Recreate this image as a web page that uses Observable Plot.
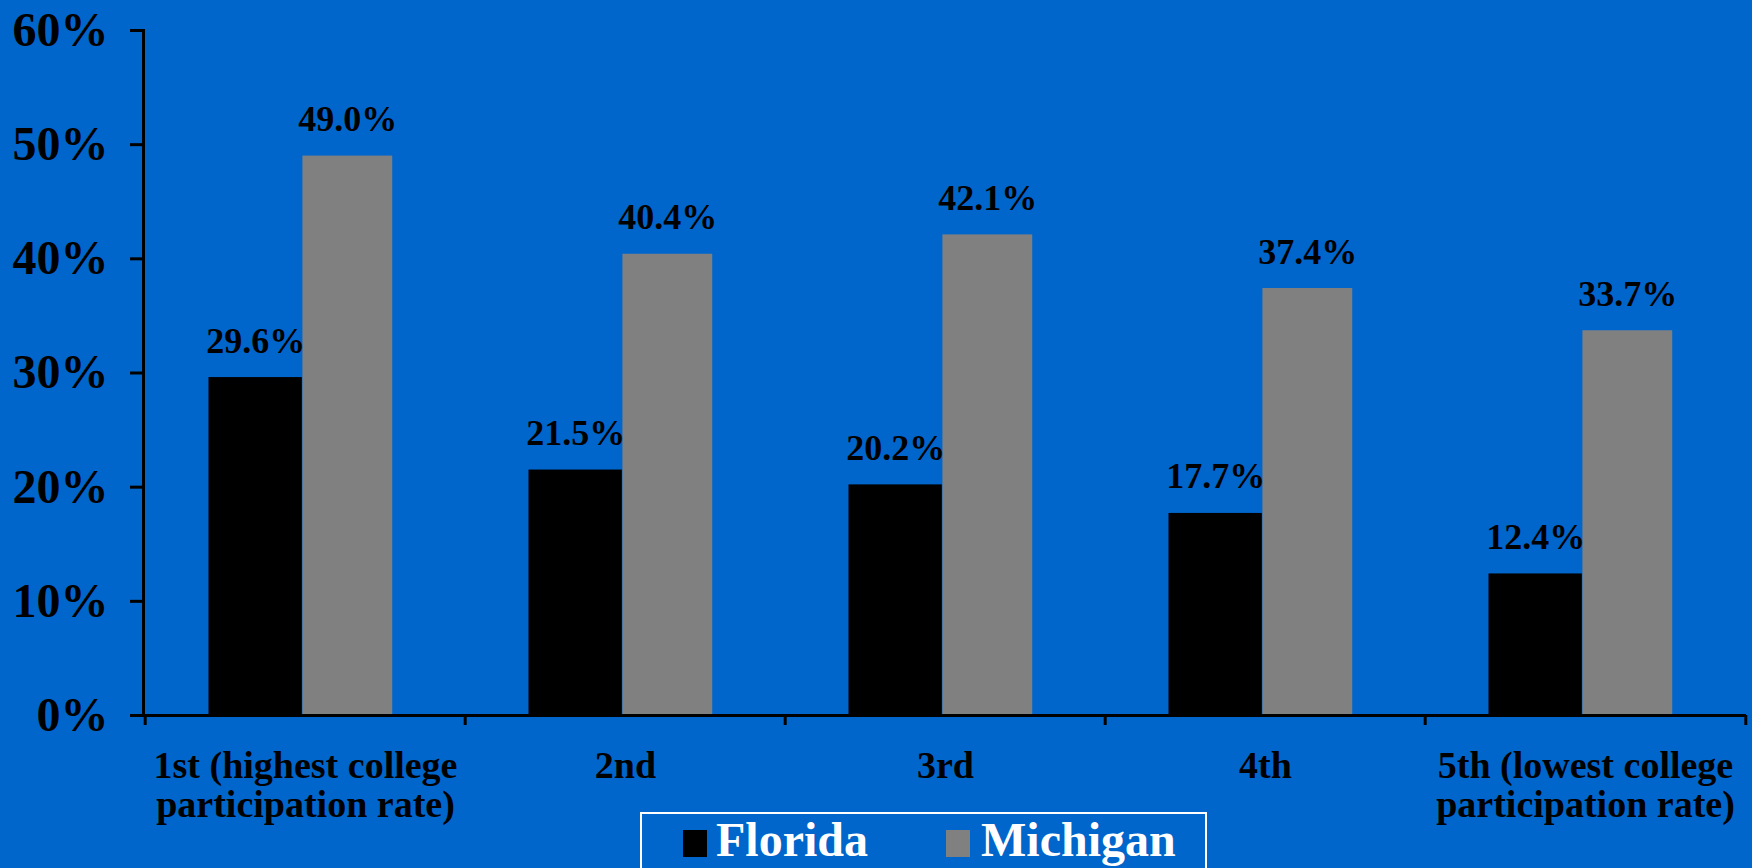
<!DOCTYPE html>
<html>
<head>
<meta charset="utf-8">
<script src="https://cdn.jsdelivr.net/npm/d3@7"></script>
<script src="https://cdn.jsdelivr.net/npm/@observablehq/plot@0.6"></script>
<style>
  html, body { margin: 0; padding: 0; background: #0066CC; overflow: hidden; }
  #wrap { position: relative; width: 1752px; height: 868px; }
  #legend {
    position: absolute; left: 640px; top: 812px; width: 563px; height: 80px;
    border: 2px solid #ffffff; box-sizing: content-box;
    font-family: "Liberation Serif", "Times New Roman", serif; font-weight: bold;
    font-size: 48px; color: #ffffff;
  }
  .sw { position: absolute; top: 16px; width: 24px; height: 27px; }
  .lt { position: absolute; top: 2px; line-height: 48px; }
</style>
</head>
<body>
<div id="wrap">
  <div id="chart"></div>
  <div id="legend">
    <div class="sw" style="left:41px;background:#000000"></div>
    <div class="lt" style="left:74px">Florida</div>
    <div class="sw" style="left:304px;background:#808080"></div>
    <div class="lt" style="left:339px">Michigan</div>
  </div>
</div>
<script>
const categories = ["1st (highest college\nparticipation rate)", "2nd", "3rd", "4th", "5th (lowest college\nparticipation rate)"];
const florida = [29.6, 21.5, 20.2, 17.7, 12.4];
const michigan = [49.0, 40.4, 42.1, 37.4, 33.7];
const yTicks = [0, 10, 20, 30, 40, 50, 60];

const W = 1752, H = 868, ML = 143, MR = 6, MT = 30, MB = 153;
const step = (W - ML - MR) / categories.length;
const gapL = step * 0.198;
const flW = step * 0.293;
const miW = step * 0.282;
const gapR = step - gapL - flW - miW;

const fl = categories.map((c, i) => ({cat: c, value: florida[i]}));
const mi = categories.map((c, i) => ({cat: c, value: michigan[i]}));
const fmt = d => d.toFixed(1) + "%";

const chart = Plot.plot({
  width: W, height: H,
  marginLeft: ML, marginRight: MR, marginTop: MT, marginBottom: MB,
  style: {background: "transparent", fontFamily: "'Liberation Serif', 'Times New Roman', serif", fontWeight: "bold", color: "#000"},
  x: {domain: categories, padding: 0, axis: null},
  y: {domain: [0, 60], axis: null},
  marks: [
    Plot.barY(fl, {x: "cat", y: "value", fill: "#000000", insetLeft: gapL, insetRight: step - gapL - flW}),
    Plot.barY(mi, {x: "cat", y: "value", fill: "#808080", insetLeft: gapL + flW, insetRight: gapR}),
    Plot.text(fl, {x: "cat", y: "value", text: d => fmt(d.value), dx: gapL + flW / 2 - step / 2, dy: -25, lineAnchor: "bottom", fontSize: 36, fill: "#000"}),
    Plot.text(mi, {x: "cat", y: "value", text: d => fmt(d.value), dx: step / 2 - gapR - miW / 2, dy: -25, lineAnchor: "bottom", fontSize: 36, fill: "#000"}),
    Plot.ruleY([0], {stroke: "#000", strokeWidth: 3}),
    Plot.frame({anchor: "left", stroke: "#000", strokeWidth: 3}),
    Plot.axisY({ticks: yTicks, label: null, tickSize: 13, tickPadding: 22, fontSize: 48, strokeWidth: 3, stroke: "#000", fill: "#000", tickFormat: d => d + "%"}),
    Plot.axisX({label: null, tickSize: 10, dx: -step / 2, strokeWidth: 3, stroke: "#000", tickFormat: () => ""}),
    Plot.axisX({label: null, ticks: [categories[categories.length - 1]], tickSize: 10, dx: step / 2, strokeWidth: 3, stroke: "#000", tickFormat: () => ""}),
    Plot.axisX({label: null, tickSize: 0, tickPadding: 35, fontSize: 38, lineHeight: 1.03, fill: "#000"})
  ]
});
document.getElementById("chart").appendChild(chart);
</script>
</body>
</html>
